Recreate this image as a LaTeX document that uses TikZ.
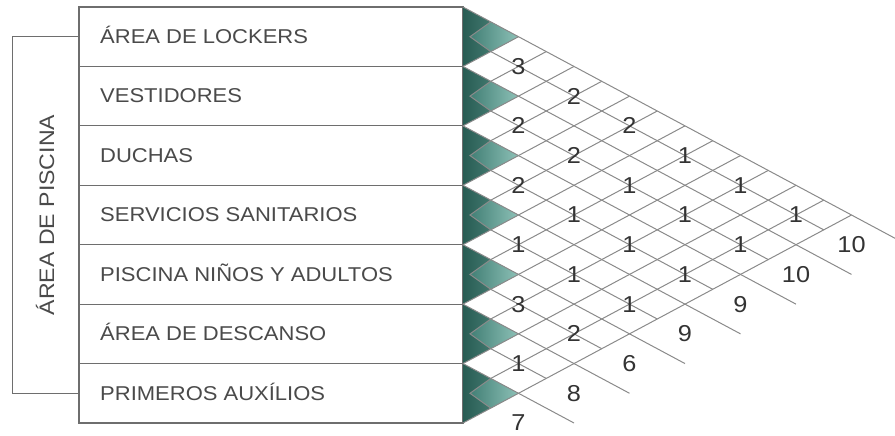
\documentclass[tikz,border=0pt]{standalone}
\usepackage{fontspec}
\setmainfont[FakeStretch=1.1]{Liberation Sans}
\definecolor{boxline}{HTML}{6E6E6E}
\definecolor{gridcol}{HTML}{8A8A8A}
\definecolor{tealdark}{HTML}{285C53}
\definecolor{teallight}{HTML}{5A9389}
\definecolor{diadark}{HTML}{427F75}
\definecolor{dialight}{HTML}{8DC1B7}
\definecolor{txt}{HTML}{4A4A4A}
\def\myh{29.714}
\def\myd{55.5}
\begin{document}
\begin{tikzpicture}[x=1pt,y=-1pt,
  rowbox/.style={draw=boxline,line width=1.2pt,fill=white,minimum width=384pt,minimum height=59.43pt,inner sep=0pt,outer sep=0pt},
  rowtext/.style={anchor=base west,inner sep=0pt,text=txt,font=\fontsize{20}{24}\selectfont},
  sidetext/.style={anchor=base,rotate=90,inner sep=0pt,text=txt,font=\fontsize{21}{25}\selectfont},
  gridln/.style={draw=gridcol,line width=1pt},
  bracketln/.style={draw=boxline,line width=1pt},
  num/.style={inner sep=0pt,text=black!80,font=\fontsize{23}{27}\selectfont}]
\useasboundingbox (0,0) rectangle (895,436);
\clip (0,0) rectangle (895,436);
% row boxes and labels
\foreach \i/\t in {1/ÁREA DE LOCKERS,2/VESTIDORES,3/DUCHAS,4/SERVICIOS SANITARIOS,5/PISCINA NIÑOS Y ADULTOS,6/ÁREA DE DESCANSO,7/PRIMEROS AUXÍLIOS}{
  \pgfmathsetmacro\c{7+(2*\i-1)*\myh}
  \node[rowbox] (r\i) at (271,\c) {};
  \node[rowtext] (t\i) at (100,{\c+6.8}) {\t};
}
% bracket
\coordinate (bt) at (12,{7+\myh});
\coordinate (bb) at (12,{7+13*\myh});
\draw[bracketln] (r1.west) -- (bt) -- (bb) -- (r7.west);
\node[sidetext] (side) at (54,{7+7*\myh}) {ÁREA DE PISCINA};
% green triangles and diamonds
\foreach \i in {1,...,7}{
  \pgfmathsetmacro\c{7+(2*\i-1)*\myh}
  \shade[left color=tealdark,right color=teallight] (463,{\c-\myh}) -- ({463+\myd},\c) -- (463,{\c+\myh}) -- cycle;
  \shade[left color=diadark,right color=dialight] (470,\c) -- ({463+\myd/2},{\c-\myh/2}) -- ({463+\myd},\c) -- ({463+\myd/2},{\c+\myh/2}) -- cycle;
  \draw[gridln] ({463+\myd/2},{\c-\myh/2}) -- (470,\c) -- ({463+\myd/2},{\c+\myh/2});
}
% separator lines, down-right
\foreach \u in {0,2,...,12}
  \draw[gridln] (463,{7+\u*\myh}) -- ({463+(16-\u)*\myd/2},{7+(\u+16)*\myh/2});
% centre lines, down-right
\foreach \u in {1,3,...,11}
  \draw[gridln] ({463+\myd/2},{7+(2*\u+1)*\myh/2}) -- ({463+(14-\u)*\myd/2},{7+(\u+14)*\myh/2});
% separator lines, up-right
\foreach \v in {2,4,...,14}
  \draw[gridln] (463,{7+\v*\myh}) -- ({463+\v*\myd/2},{7+\v*\myh/2});
% centre lines, up-right
\foreach \v in {3,5,...,13}
  \draw[gridln] ({463+\myd/2},{7+(2*\v-1)*\myh/2}) -- ({463+\v*\myd/2},{7+\v*\myh/2});
% values
\foreach \i/\j/\val in {1/2/3,1/3/2,1/4/2,1/5/1,1/6/1,1/7/1,
  2/3/2,2/4/2,2/5/1,2/6/1,2/7/1,
  3/4/2,3/5/1,3/6/1,3/7/1,
  4/5/1,4/6/1,4/7/1,
  5/6/3,5/7/2,
  6/7/1}
  \node[num] (v\i\j) at ({463+(\j-\i)*\myd},{7+(\i+\j-1)*\myh}) {\val};
% totals
\foreach \i/\val in {1/10,2/10,3/9,4/9,5/6,6/8,7/7}
  \node[num] (tot\i) at ({463+(8-\i)*\myd},{7+(\i+7)*\myh}) {\val};
\end{tikzpicture}
\end{document}
